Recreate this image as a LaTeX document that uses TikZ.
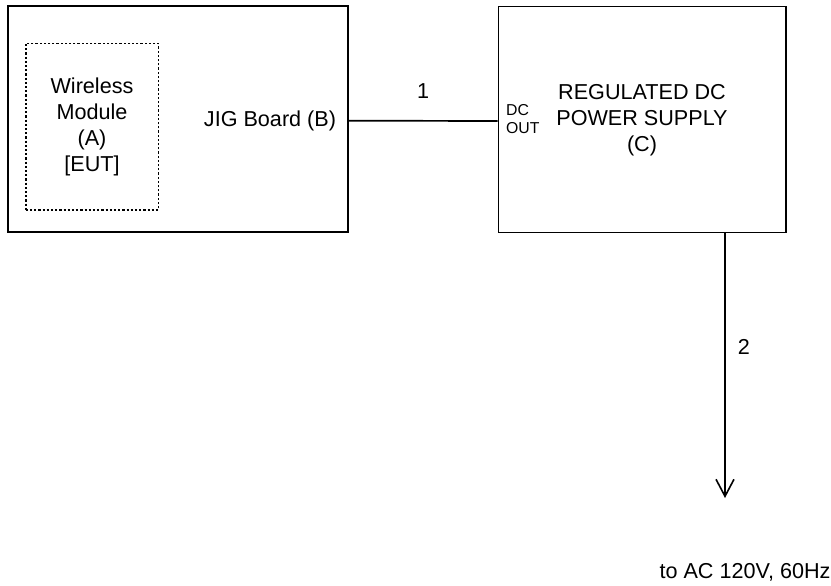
\documentclass[tikz,border=0pt]{standalone}
\usepackage{fontspec}
\setmainfont{Liberation Sans}
\usetikzlibrary{arrows.meta}
\begin{document}
\begin{tikzpicture}[x=1pt,y=-1pt,
  box/.style={draw,line width=1.7pt,minimum width=#1,inner sep=0pt,minimum height=226pt},
  txt/.style={font=\fontsize{21.6}{25.8}\selectfont,align=center,inner sep=0pt},
  small/.style={font=\fontsize{15.8}{18}\selectfont,align=left,inner sep=0pt},
  conn/.style={line width=1.7pt}]
\useasboundingbox (0,0) rectangle (831,586);
\node[box=340pt] (B) at (178,119.2) {};
\node[draw,dash pattern=on 2.2pt off 2pt,line width=1.6pt,minimum width=132.6pt,minimum height=166.7pt,inner sep=0pt] (A) at (92,126.7) {};
\node[txt] (At) at (92,127) {Wireless\\Module\\(A)\\{[EUT]}};
\node[txt] (Bt) at (270,121) {JIG Board (B)};
\node[box=287.7pt] (C) at (642.2,119.5) {};
\node[txt] (Ct) at (642,120) {REGULATED DC\\POWER SUPPLY\\(C)};
\node[small,anchor=west] (dc) at (506,119) {DC\\OUT};
\coordinate (Cb) at (725,232.3);
\coordinate (end) at (725,498);
\draw[conn] ([yshift=-1.5pt]B.east) -- node[txt,above=21pt] (l1) {1} ([yshift=-1.5pt]C.west);
\draw[conn,-{Straight Barb[length=17pt,width=18pt,line width=1.6pt]}] (Cb) -- (end);
\node[txt] (l2) at (744,347) {2};
\node[txt] (ac) at (745,572) {to AC 120V, 60Hz};
\end{tikzpicture}
\end{document}
